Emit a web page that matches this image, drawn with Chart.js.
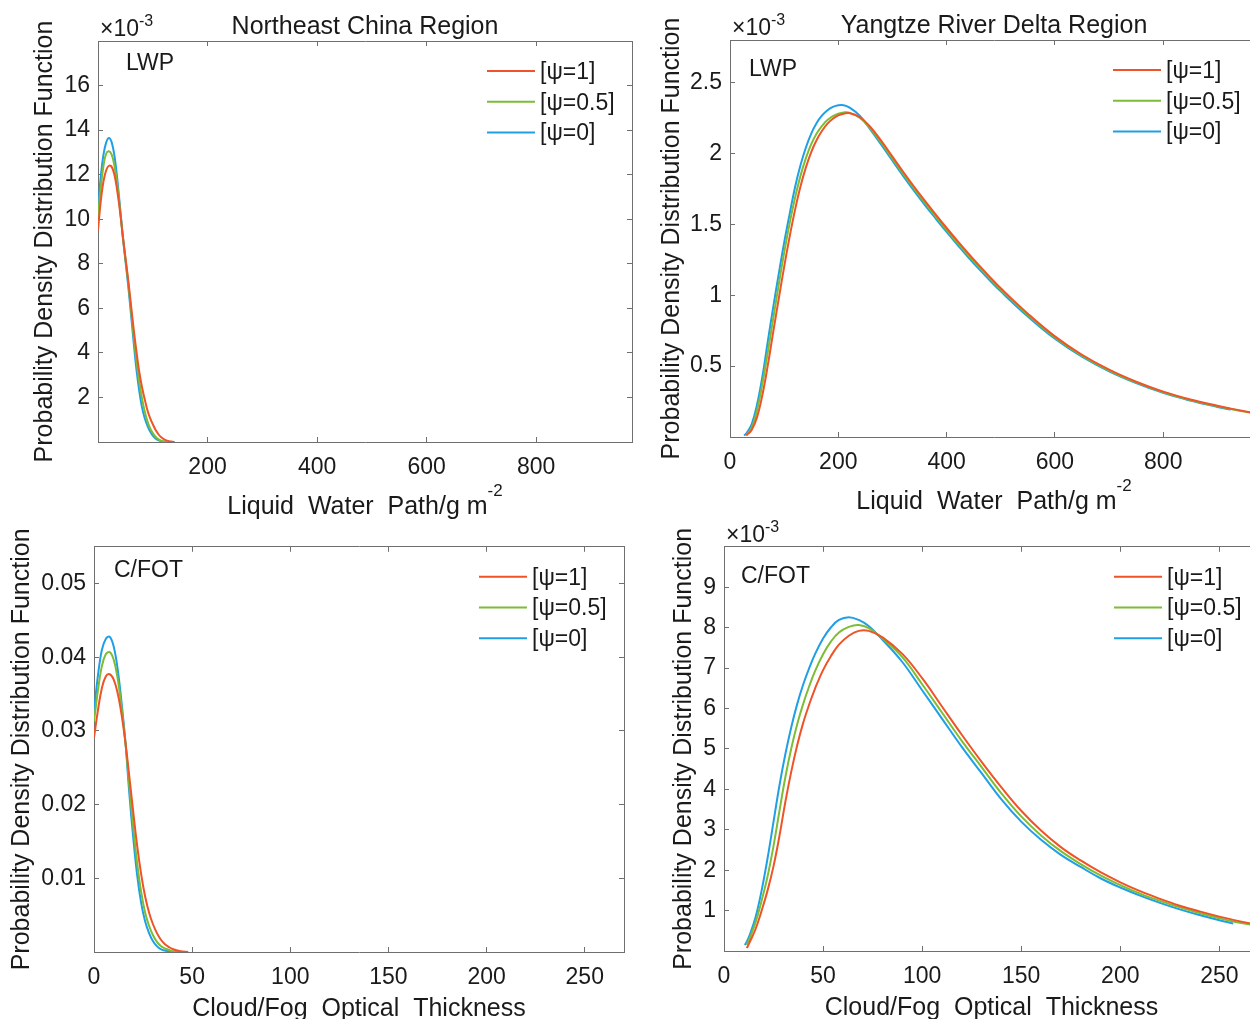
<!DOCTYPE html>
<html>
<head>
<meta charset="utf-8">
<title>PDF of LWP and C/FOT</title>
<script src="https://cdn.jsdelivr.net/npm/chart.js@4.4.1/dist/chart.umd.min.js"></script>
<style>
  html, body { margin: 0; padding: 0; background: #fff; }
  body { width: 1250px; height: 1019px; overflow: hidden; position: relative; }
  canvas { position: absolute; }
</style>
</head>
<body>
<canvas id="neLwp" width="640" height="520" style="left:0;top:0"></canvas>
<canvas id="yrdLwp" width="640" height="520" style="left:640px;top:0"></canvas>
<canvas id="neCot" width="640" height="499" style="left:0;top:520px"></canvas>
<canvas id="yrdCot" width="640" height="499" style="left:640px;top:520px"></canvas>
<script>
// Series names and colours (shared by all four panels)
const psiLabels = ['[ψ=1]', '[ψ=0.5]', '[ψ=0]'];
const psiColors = ['#ef5328', '#7dbd35', '#1f9fe6'];

// Northeast China, LWP (pdf in units of 1e-3)
const neLwpX = [0, 5, 10, 15, 20, 25, 30, 35, 40, 45, 50, 55, 60, 65, 70, 75, 80, 85, 90, 95, 100, 105, 110, 115, 120, 125, 130, 140];
const neLwpPsi1 = [9.5, 10.8, 11.7, 12.2, 12.4, 12.35, 12.0, 11.3, 10.4, 9.3, 8.3, 7.3, 6.2, 5.1, 4.1, 3.2, 2.5, 1.95, 1.45, 1.08, 0.8, 0.55, 0.36, 0.22, 0.13, 0.07, 0.035, 0];
const neLwpPsi05 = [10.1, 11.4, 12.4, 12.95, 13.05, 12.9, 12.4, 11.6, 10.5, 9.3, 8.25, 7.2, 6.0, 4.8, 3.7, 2.75, 2.0, 1.4, 0.95, 0.62, 0.4, 0.24, 0.13, 0.06, 0.025, 0.01, 0, null];
const neLwpPsi0 = [10.4, 11.9, 12.9, 13.45, 13.65, 13.45, 12.85, 11.85, 10.6, 9.3, 8.15, 7.05, 5.8, 4.5, 3.3, 2.35, 1.6, 1.1, 0.75, 0.48, 0.29, 0.16, 0.08, 0.035, 0.012, 0, null, null];
const neLwpXTicks = [200, 400, 600, 800];
const neLwpYTicks = [2, 4, 6, 8, 10, 12, 14, 16];

// Yangtze River Delta, LWP (pdf in units of 1e-3)
const yrdLwpX = [26, 30, 40, 50, 60, 70, 80, 90, 100, 110, 120, 130, 140, 150, 160, 170, 180, 190, 200, 210, 220, 240, 260, 280, 300, 320, 340, 360, 380, 400, 420, 440, 460, 480, 500, 550, 600, 650, 700, 750, 800, 850, 900, 925, 950, 975];
const yrdLwpPsi1 = [null, 0.01, 0.05, 0.14, 0.3, 0.51, 0.745, 0.975, 1.2, 1.41, 1.6, 1.765, 1.9, 2.01, 2.095, 2.16, 2.21, 2.245, 2.268, 2.28, 2.285, 2.255, 2.183, 2.085, 1.977, 1.869, 1.765, 1.665, 1.568, 1.474, 1.383, 1.295, 1.21, 1.128, 1.049, 0.87, 0.71, 0.58, 0.475, 0.39, 0.32, 0.265, 0.22, 0.2, 0.182, 0.166];
const yrdLwpPsi05 = [null, 0.015, 0.065, 0.19, 0.38, 0.605, 0.84, 1.075, 1.3, 1.505, 1.685, 1.84, 1.965, 2.065, 2.14, 2.195, 2.235, 2.263, 2.28, 2.289, 2.288, 2.25, 2.172, 2.072, 1.963, 1.855, 1.751, 1.651, 1.554, 1.46, 1.369, 1.282, 1.198, 1.117, 1.039, 0.861, 0.702, 0.573, 0.469, 0.385, 0.316, 0.261, 0.216, 0.197, 0.179, 0.163];
const yrdLwpPsi0 = [0.01, 0.025, 0.09, 0.23, 0.43, 0.68, 0.92, 1.15, 1.37, 1.57, 1.76, 1.915, 2.04, 2.14, 2.215, 2.268, 2.305, 2.328, 2.34, 2.34, 2.325, 2.265, 2.165, 2.058, 1.948, 1.84, 1.736, 1.636, 1.54, 1.446, 1.355, 1.268, 1.184, 1.104, 1.027, 0.85, 0.693, 0.566, 0.463, 0.38, 0.311, 0.257, 0.212, 0.193, null, null];
const yrdLwpXTicks = [0, 200, 400, 600, 800];
const yrdLwpYTicks = [0.5, 1, 1.5, 2, 2.5];

// Northeast China, cloud/fog optical thickness
const neCotX = [0, 2, 4, 6, 8, 10, 12, 14, 16, 18, 20, 22, 24, 26, 28, 30, 32, 34, 36, 38, 40, 44, 48];
const neCotPsi1 = [0.0291, 0.0328, 0.0358, 0.0374, 0.0377, 0.0370, 0.0352, 0.0323, 0.0285, 0.0238, 0.0190, 0.0144, 0.0106, 0.0076, 0.0054, 0.0038, 0.0026, 0.0017, 0.0011, 0.0007, 0.0004, 0.0001, 0];
const neCotPsi05 = [0.0313, 0.0355, 0.0388, 0.0404, 0.0407, 0.0397, 0.0372, 0.0333, 0.0285, 0.0225, 0.0170, 0.0120, 0.0082, 0.0054, 0.0036, 0.0023, 0.0014, 0.0008, 0.0005, 0.0003, 0.0001, 0, null];
const neCotPsi0 = [0.0327, 0.0375, 0.0410, 0.0425, 0.0428, 0.0415, 0.0385, 0.0340, 0.0285, 0.0215, 0.0155, 0.0104, 0.0067, 0.0042, 0.0026, 0.0015, 0.0008, 0.0004, 0.0002, 0.0001, 0, null, null];
const neCotXTicks = [0, 50, 100, 150, 200, 250];
const neCotYTicks = [0.01, 0.02, 0.03, 0.04, 0.05];

// Yangtze River Delta, cloud/fog optical thickness (pdf in units of 1e-3)
const yrdCotX = [10.5, 11.5, 13, 16, 19, 22, 25, 28, 31, 34, 37, 40, 43, 46, 50, 54, 58, 63, 68, 73, 80, 90, 100, 110, 120, 130, 140, 150, 160, 170, 180, 190, 200, 210, 220, 230, 240, 250, 257, 265, 270];
const yrdCotPsi1 = [null, 0.07, 0.22, 0.55, 1.0, 1.5, 2.1, 2.85, 3.7, 4.45, 5.1, 5.65, 6.1, 6.5, 6.95, 7.3, 7.58, 7.8, 7.92, 7.92, 7.76, 7.35, 6.75, 6.05, 5.35, 4.68, 4.05, 3.47, 2.98, 2.57, 2.24, 1.95, 1.7, 1.48, 1.29, 1.12, 0.98, 0.85, 0.77, 0.69, 0.65];
const yrdCotPsi05 = [null, 0.15, 0.32, 0.72, 1.25, 1.85, 2.6, 3.47, 4.31, 5.02, 5.62, 6.12, 6.55, 6.93, 7.34, 7.66, 7.88, 8.02, 8.065, 7.99, 7.73, 7.27, 6.6, 5.9, 5.2, 4.55, 3.9, 3.33, 2.86, 2.47, 2.15, 1.87, 1.63, 1.42, 1.24, 1.08, 0.94, 0.81, 0.73, 0.66, 0.62];
const yrdCotPsi0 = [0.15, 0.23, 0.4, 0.85, 1.5, 2.3, 3.2, 4.1, 4.88, 5.55, 6.12, 6.6, 7.0, 7.35, 7.73, 8.01, 8.19, 8.26, 8.19, 8.04, 7.7, 7.15, 6.45, 5.75, 5.05, 4.4, 3.75, 3.2, 2.75, 2.38, 2.08, 1.8, 1.57, 1.37, 1.19, 1.03, 0.89, 0.76, 0.68, null, null];
const yrdCotXTicks = [0, 50, 100, 150, 200, 250];
const yrdCotYTicks = [1, 2, 3, 4, 5, 6, 7, 8, 9];

const FONT = '"Liberation Sans", Arial, Helvetica, sans-serif';
const TEXT = '#1a1a1a';
const AXIS = '#6f6f6f';
const TICK_LEN = -5;   // negative = ticks point into the plot

// Draws panel title, the x10^-3 multiplier, the variable tag, legend and x-axis title
const panelDecor = {
  id: 'panelDecor',
  afterDraw(chart, args, o) {
    const { ctx, chartArea: a } = chart;
    ctx.save();
    ctx.fillStyle = TEXT;
    ctx.textAlign = 'left';
    ctx.textBaseline = 'alphabetic';

    if (o.title) {
      ctx.font = '25px ' + FONT;
      ctx.textAlign = 'center';
      ctx.fillText(o.title, (a.left + a.right) / 2, a.top - 7);
      ctx.textAlign = 'left';
    }

    if (o.exponent) {
      ctx.font = '23px ' + FONT;
      const base = '×10';
      ctx.fillText(base, a.left + 2, a.top - 5);
      const w = ctx.measureText(base).width;
      ctx.font = '16px ' + FONT;
      ctx.fillText(o.exponent, a.left + 2 + w, a.top - 15);
    }

    // x-axis title, centred including the superscript
    ctx.font = '25px ' + FONT;
    const w1 = ctx.measureText(o.xTitle).width;
    ctx.font = '17px ' + FONT;
    const w2 = o.xSup ? ctx.measureText(o.xSup).width : 0;
    const x0 = (a.left + a.right) / 2 - (w1 + w2) / 2;
    const yb = a.bottom + o.xTitleGap;
    ctx.font = '25px ' + FONT;
    ctx.fillText(o.xTitle, x0, yb);
    if (o.xSup) {
      ctx.font = '17px ' + FONT;
      ctx.fillText(o.xSup, x0 + w1, yb - 18);
    }

    ctx.font = '23px ' + FONT;
    ctx.textBaseline = 'middle';
    ctx.fillText(o.tag, a.left + o.tagDx, a.top + o.tagDy);

    // legend, top right inside the axes
    chart.data.datasets.forEach((ds, i) => {
      const y = a.top + 30 + i * 30.7;
      const lx = a.right - 145;
      ctx.strokeStyle = ds.borderColor;
      ctx.lineWidth = 2;
      ctx.beginPath();
      ctx.moveTo(lx, y);
      ctx.lineTo(lx + 48, y);
      ctx.stroke();
      ctx.fillText(ds.label, lx + 53, y + 1.5);
    });
    ctx.restore();
  }
};

function pairs(xs, ys) {
  return xs.map((x, i) => ({ x: x, y: ys[i] }));
}

function fixedTicks(list) {
  return (scale) => { scale.ticks = list.map(v => ({ value: v })); };
}

function edgeAxis(position, min, max, ticks) {
  const horizontal = position === 'top';
  return {
    type: 'linear',
    position: position,
    min: min,
    max: max,
    afterBuildTicks: fixedTicks(ticks),
    afterFit: (s) => { if (horizontal) s.height = 0; else s.width = 0; },
    ticks: { display: false },
    grid: { drawOnChartArea: false, tickLength: TICK_LEN, color: AXIS },
    border: { color: AXIS, width: 1 }
  };
}

function buildPanel(id, p) {
  const series = [p.psi1, p.psi05, p.psi0];
  return new Chart(document.getElementById(id), {
    type: 'line',
    data: {
      datasets: series.map((ys, i) => ({
        label: psiLabels[i],
        data: pairs(p.x, ys),
        borderColor: psiColors[i],
        backgroundColor: psiColors[i],
        borderWidth: 2,
        pointRadius: 0,
        fill: false,
        tension: 0.4
      }))
    },
    options: {
      responsive: false,
      animation: false,
      events: [],
      layout: { padding: { left: 0, top: p.top, right: p.right, bottom: 0 } },
      plugins: {
        legend: { display: false },
        tooltip: { enabled: false },
        panelDecor: p.decor
      },
      scales: {
        x: {
          type: 'linear',
          position: 'bottom',
          min: p.xMin,
          max: p.xMax,
          afterBuildTicks: fixedTicks(p.xTicks),
          afterFit: (s) => { s.height = p.xAxisH; },
          ticks: {
            font: { family: FONT, size: 23 },
            color: TEXT,
            padding: 17,
            maxRotation: 0,
            callback: (v) => String(v)
          },
          grid: { drawOnChartArea: false, tickLength: TICK_LEN, color: AXIS },
          border: { color: AXIS, width: 1 }
        },
        y: {
          type: 'linear',
          position: 'left',
          min: p.yMin,
          max: p.yMax,
          afterBuildTicks: fixedTicks(p.yTicks),
          afterFit: (s) => { s.width = p.yAxisW; },
          ticks: {
            font: { family: FONT, size: 23 },
            color: TEXT,
            padding: 13,
            callback: (v) => String(v)
          },
          grid: { drawOnChartArea: false, tickLength: TICK_LEN, color: AXIS },
          border: { color: AXIS, width: 1 },
          title: {
            display: true,
            text: 'Probability Density Distribution Function',
            font: { family: FONT, size: 25 },
            color: TEXT,
            padding: { top: p.yTitlePad, bottom: 0 }
          }
        },
        xTop: edgeAxis('top', p.xMin, p.xMax, p.xTicks),
        yRight: edgeAxis('right', p.yMin, p.yMax, p.yTicks)
      }
    },
    plugins: [panelDecor]
  });
}

const lwpTitle = { xTitle: 'Liquid  Water  Path/g m', xSup: '-2', xTitleGap: 72 };
const cotTitle = { xTitle: 'Cloud/Fog  Optical  Thickness', xSup: '', xTitleGap: 64 };

buildPanel('neLwp', {
  x: neLwpX, psi1: neLwpPsi1, psi05: neLwpPsi05, psi0: neLwpPsi0,
  xMin: 0, xMax: 975, yMin: 0, yMax: 18, xTicks: neLwpXTicks, yTicks: neLwpYTicks,
  top: 41, right: 8, yAxisW: 98, xAxisH: 78, yTitlePad: 30,
  decor: Object.assign({ title: 'Northeast China Region', exponent: '-3', tag: 'LWP', tagDx: 28, tagDy: 23 }, lwpTitle)
});

buildPanel('yrdLwp', {
  x: yrdLwpX, psi1: yrdLwpPsi1, psi05: yrdLwpPsi05, psi0: yrdLwpPsi0,
  xMin: 0, xMax: 975, yMin: 0, yMax: 2.8, xTicks: yrdLwpXTicks, yTicks: yrdLwpYTicks,
  top: 40, right: 22, yAxisW: 90, xAxisH: 83, yTitlePad: 17,
  decor: Object.assign({ title: 'Yangtze River Delta Region', exponent: '-3', tag: 'LWP', tagDx: 19, tagDy: 30 }, lwpTitle)
});

buildPanel('neCot', {
  x: neCotX, psi1: neCotPsi1, psi05: neCotPsi05, psi0: neCotPsi0,
  xMin: 0, xMax: 270, yMin: 0, yMax: 0.055, xTicks: neCotXTicks, yTicks: neCotYTicks,
  top: 26, right: 16, yAxisW: 94, xAxisH: 67, yTitlePad: 7,
  decor: Object.assign({ title: '', exponent: '', tag: 'C/FOT', tagDx: 20, tagDy: 24 }, cotTitle)
});

buildPanel('yrdCot', {
  x: yrdCotX, psi1: yrdCotPsi1, psi05: yrdCotPsi05, psi0: yrdCotPsi0,
  xMin: 0, xMax: 270, yMin: 0, yMax: 10, xTicks: yrdCotXTicks, yTicks: yrdCotYTicks,
  top: 22, right: 21, yAxisW: 84, xAxisH: 68, yTitlePad: 29,
  decor: Object.assign({ title: '', exponent: '-3', tag: 'C/FOT', tagDx: 17, tagDy: 30 }, cotTitle)
});
</script>
</body>
</html>
